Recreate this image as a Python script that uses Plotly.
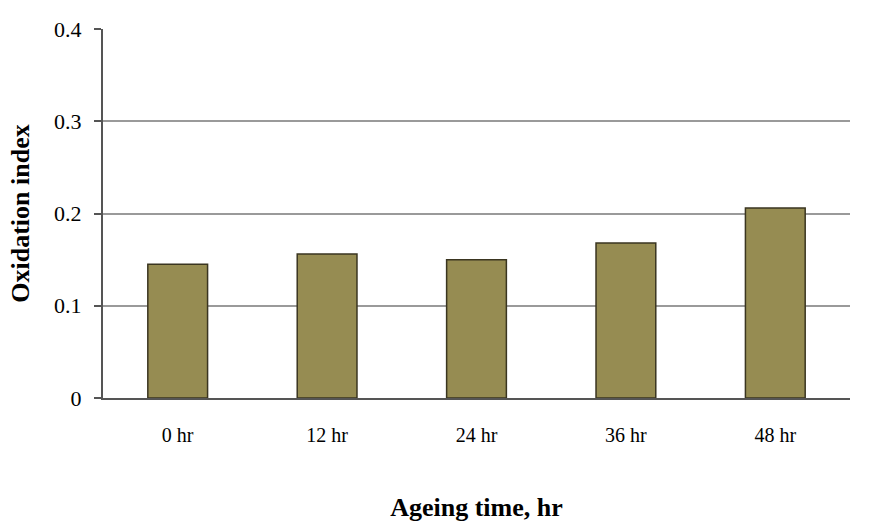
import plotly.graph_objects as go

categories = ["0 hr", "12 hr", "24 hr", "36 hr", "48 hr"]
values = [0.145, 0.156, 0.150, 0.168, 0.206]
y_ticks = [0, 0.1, 0.2, 0.3, 0.4]
y_tick_labels = ["0", "0.1", "0.2", "0.3", "0.4"]

font_family = "Liberation Serif"

fig = go.Figure(
    go.Bar(
        x=categories,
        y=values,
        marker=dict(color="#968C52", line=dict(color="#3A3520", width=1.5)),
        width=0.4,
    )
)

fig.update_layout(
    width=878,
    height=529,
    margin=dict(l=103, r=28, t=29, b=131),
    paper_bgcolor="white",
    plot_bgcolor="white",
    showlegend=False,
    font=dict(family=font_family, color="black", size=20),
)

fig.update_xaxes(
    showgrid=False,
    showline=True,
    linecolor="#555555",
    linewidth=2,
    ticks="",
    ticklabelstandoff=18,
    tickfont=dict(family=font_family, size=20, color="black"),
    title=dict(
        text="<b>Ageing time, hr</b>",
        font=dict(family=font_family, size=26, color="black"),
        standoff=53,
    ),
)

fig.update_yaxes(
    range=[0, 0.4],
    tickvals=y_ticks,
    ticktext=y_tick_labels,
    showgrid=True,
    gridcolor="#9A9A9A",
    gridwidth=1.5,
    showline=True,
    linecolor="#555555",
    linewidth=2,
    ticks="outside",
    ticklen=7,
    tickcolor="#555555",
    tickwidth=1.5,
    ticklabelstandoff=8,
    zeroline=False,
    tickfont=dict(family=font_family, size=22, color="black"),
    title=dict(
        text="<b>Oxidation index</b>",
        font=dict(family=font_family, size=26, color="black"),
        standoff=17,
    ),
)

fig.write_html("out.html")
